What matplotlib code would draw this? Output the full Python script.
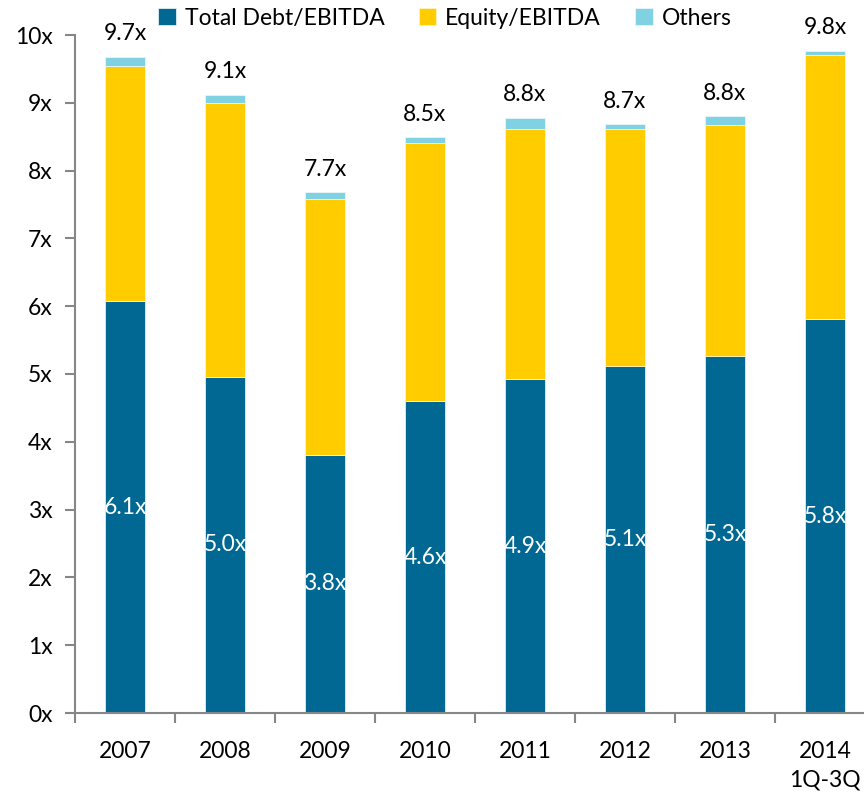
import numpy as np
import matplotlib
matplotlib.use("Agg")
from matplotlib import pyplot as plt

plt.rcParams['font.family'] = ['Lato', 'DejaVu Sans']

years = ['2007', '2008', '2009', '2010', '2011', '2012', '2013', '2014\n1Q-3Q']
debt = [6.07, 4.96, 3.81, 4.60, 4.92, 5.12, 5.27, 5.81]
equity = [3.47, 4.03, 3.77, 3.80, 3.70, 3.50, 3.40, 3.90]
others = [0.14, 0.13, 0.10, 0.09, 0.16, 0.06, 0.13, 0.06]
debt_labels = ['6.1x', '5.0x', '3.8x', '4.6x', '4.9x', '5.1x', '5.3x', '5.8x']
total_labels = ['9.7x', '9.1x', '7.7x', '8.5x', '8.8x', '8.7x', '8.8x', '9.8x']

c_debt = '#006892'
c_eq = '#FFCC00'
c_oth = '#80D2E3'
grey = '#868686'
fs = 16.5

fig = plt.figure(figsize=(8.64, 7.93), dpi=100)
ax = fig.add_axes([75 / 864, 1 - 713 / 793, 800 / 864, 678 / 793])

x = np.arange(len(years))
debt = np.array(debt)
equity = np.array(equity)
others = np.array(others)
w = 0.4
ax.bar(x, debt, w, color=c_debt, edgecolor='#dfeef3', linewidth=0.6, label='Total Debt/EBITDA')
ax.bar(x, equity, w, bottom=debt, color=c_eq, edgecolor='#fff3c0', linewidth=0.6, label='Equity/EBITDA')
ax.bar(x, others, w, bottom=debt + equity, color=c_oth, edgecolor='#e6f6fa', linewidth=0.6, label='Others')

top = debt + equity + others
for i in range(len(x)):
    ax.text(x[i], debt[i] / 2, debt_labels[i], ha='center', va='center',
            color='white', fontsize=fs)
    ax.annotate(total_labels[i], (x[i], top[i]), xytext=(0, 9),
                textcoords='offset points', ha='center', va='bottom',
                fontsize=fs, color='black')

ax.set_xlim(-0.5, 7.5)
ax.set_ylim(0, 10)
ax.set_yticks(range(11))
ax.set_yticklabels([f'{i}x' for i in range(11)])
ax.set_xticks(x)
ax.set_xticklabels(years, linespacing=1.45)
ax.set_xticks(np.arange(-0.5, 8, 1), minor=True)
ax.tick_params(axis='x', which='major', length=0, pad=20, labelsize=fs)
ax.tick_params(axis='x', which='minor', length=7, direction='out', color=grey, width=1.5)
ax.tick_params(axis='y', length=7, direction='out', color=grey, width=1.5, labelsize=fs, pad=9)

for s in ['top', 'right']:
    ax.spines[s].set_visible(False)
for s in ['left', 'bottom']:
    ax.spines[s].set_color(grey)
    ax.spines[s].set_linewidth(1.5)

fig.legend(loc='center', bbox_to_anchor=(0.515, 0.977), ncol=3, frameon=False,
           fontsize=fs, handlelength=0.75, handleheight=0.75, handletextpad=0.4,
           columnspacing=1.5)

plt.savefig('out.png', dpi=100)
